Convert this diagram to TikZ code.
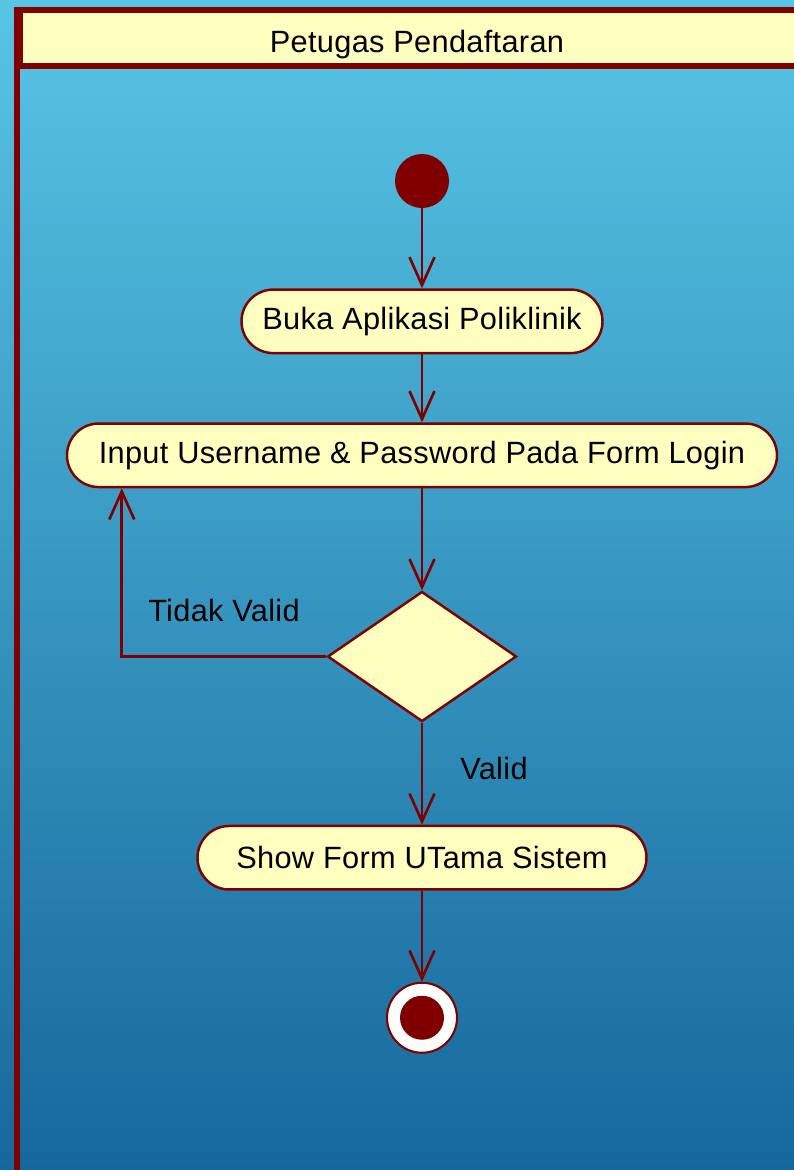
\documentclass[tikz,border=0pt]{standalone}
\usepackage{fontspec}
\setmainfont{Liberation Sans}[LetterSpace=1]
\usetikzlibrary{positioning,shapes.geometric,arrows.meta}
\definecolor{ured}{RGB}{128,0,0}
\definecolor{uyellow}{RGB}{255,255,192}
\definecolor{bgtop}{RGB}{88,197,229}
\definecolor{bgbot}{RGB}{22,104,156}

\begin{document}
\begin{tikzpicture}[
  font=\fontsize{17.5}{20}\selectfont,
  act/.style={draw=ured, fill=uyellow, line width=1.4pt, rectangle, rounded corners=0.635cm, minimum height=1.27cm, inner sep=0},
  flow/.style={draw=ured, line width=1.5pt, -{Straight Barb[length=0.56cm,width=0.5cm]}},
  lbl/.style={inner sep=0, text=black}
]
\shade[top color=bgtop, bottom color=bgbot] (0,0) rectangle (15.88,-23.4);
\useasboundingbox (0,0) rectangle (15.88,-23.4);
\node[draw=ured, fill=uyellow, line width=3.4pt, minimum width=15.88cm, minimum height=1.12cm, text height=0.72cm, inner sep=0](lane) at (8.34,-0.76) {Petugas Pendaftaran};
\draw[ured, line width=3.4pt] (lane.north west) -- ++(0,-23.5);

\node[circle, fill=ured, minimum size=1.08cm, inner sep=0](st) at (8.44,-3.62) {};
\node[act, minimum width=7.22cm, below=1.6cm of st](buka) {Buka Aplikasi Poliklinik};
\node[act, minimum width=14.2cm, below=1.36cm of buka](inp) {Input Username \& Password Pada Form Login};
\node[diamond, draw=ured, fill=uyellow, line width=1.4pt, minimum width=3.78cm, minimum height=2.6cm, inner sep=0, below=2.04cm of inp](dec) {};
\node[act, minimum width=8.98cm, below=2.04cm of dec](show) {Show Form UTama Sistem};
\node[circle, draw=ured, fill=white, line width=1.2pt, minimum size=1.4cm, inner sep=0, below=1.82cm of show](fin) {};
\fill[ured] (fin) circle (0.44cm);
\coordinate[left=4.09cm of dec.west](bk);

\draw[flow] (st) -- (buka);
\draw[flow] (buka) -- (inp);
\draw[flow] (inp) -- (dec);
\draw[flow] (dec.west) -- node[lbl, midway, above=0.66cm] {Tidak Valid} (bk) -- (bk |- inp.south);
\draw[flow] (dec) -- node[lbl, midway, right=0.74cm, yshift=0.1cm] {Valid} (show);
\draw[flow] (show) -- (fin);
\end{tikzpicture}
\end{document}
